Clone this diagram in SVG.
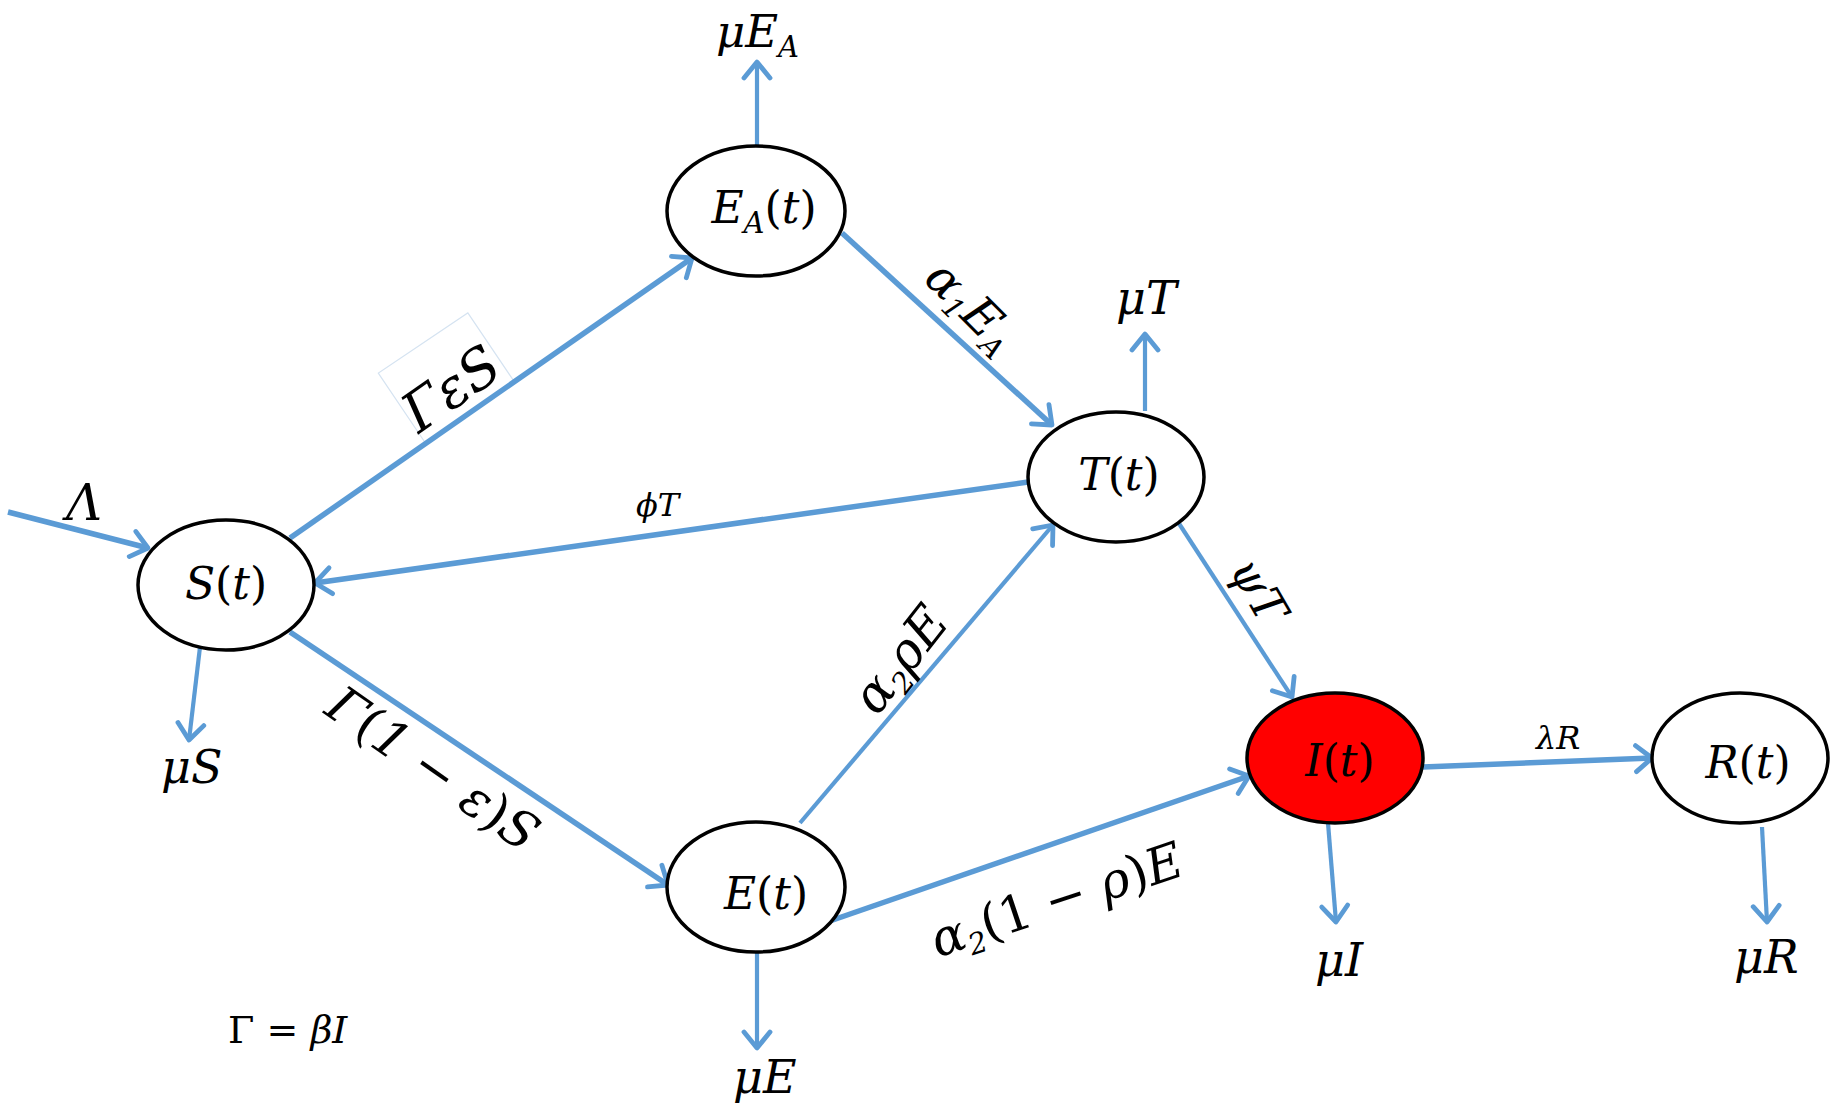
<svg xmlns="http://www.w3.org/2000/svg" width="1837" height="1111" viewBox="0 0 1837 1111">
<style>
.bg{fill:#fff}
.c{stroke:#5b9bd5;stroke-width:5.5;fill:none;marker-end:url(#ah)}
.th{stroke-width:4.2}
.n{fill:#fff;stroke:#000;stroke-width:3.5}
.ni{fill:#ff0000;stroke:#000;stroke-width:3.5}
.t{font-family:"DejaVu Serif","Liberation Serif",serif;font-style:italic;fill:#000}
.nt{font-size:44px;text-anchor:middle}
.u{font-style:normal}
.sub{font-size:29px}
.box{fill:#fff;stroke:#d5e3f1;stroke-width:1.2}
</style>
<defs>
<marker id="ah" markerUnits="userSpaceOnUse" viewBox="-22 -16 26 32" markerWidth="26" markerHeight="32" refX="0" refY="0" orient="auto">
<path d="M-16,-13 L0,0 L-16,13" fill="none" stroke="#5b9bd5" stroke-width="4.8" stroke-linejoin="round" stroke-linecap="round"/>
</marker>
</defs>
<rect class="bg" x="0" y="0" width="1837" height="1111"/>
<rect class="box" x="-54" y="-41" width="108" height="83" transform="translate(446 377) rotate(-34)"/>
<g id="connectors">
<line class="c" x1="8" y1="512" x2="148" y2="548"/>
<line class="c" x1="290" y1="538" x2="692" y2="258"/>
<line class="c" x1="842" y1="233" x2="1052" y2="425"/>
<line class="c th" x1="757" y1="146" x2="757" y2="62"/>
<line class="c th" x1="1145" y1="411" x2="1145" y2="334"/>
<line class="c" x1="1028" y1="482" x2="315" y2="583"/>
<line class="c" x1="290" y1="632" x2="668" y2="885"/>
<line class="c th" x1="800" y1="823" x2="1053" y2="525"/>
<line class="c" x1="827" y1="922" x2="1249" y2="776"/>
<line class="c th" x1="1178" y1="522" x2="1292" y2="697"/>
<line class="c" x1="1423" y1="767" x2="1652" y2="758"/>
<line class="c th" x1="200" y1="647" x2="189" y2="740"/>
<line class="c th" x1="757" y1="952" x2="757" y2="1048"/>
<line class="c th" x1="1328" y1="823" x2="1336" y2="922"/>
<line class="c th" x1="1762" y1="827" x2="1767" y2="922"/>
</g>
<g id="node-S"><ellipse class="n" cx="226" cy="585" rx="88" ry="65"/><text class="t nt" x="226" y="599">S<tspan class="u">(</tspan>t<tspan class="u">)</tspan></text></g>
<g id="node-EA"><ellipse class="n" cx="756" cy="211" rx="89" ry="65"/><text class="t nt" x="764" y="223">E<tspan class="sub" dy="10">A</tspan><tspan class="u" dy="-10">(</tspan>t<tspan class="u">)</tspan></text></g>
<g id="node-T"><ellipse class="n" cx="1116" cy="477" rx="88" ry="65"/><text class="t nt" x="1119" y="490">T<tspan class="u">(</tspan>t<tspan class="u">)</tspan></text></g>
<g id="node-E"><ellipse class="n" cx="756" cy="887" rx="89" ry="65"/><text class="t nt" x="766" y="909">E<tspan class="u">(</tspan>t<tspan class="u">)</tspan></text></g>
<g id="node-I"><ellipse class="ni" cx="1335" cy="758" rx="88" ry="65"/><text class="t nt" x="1340" y="776">I<tspan class="u">(</tspan>t<tspan class="u">)</tspan></text></g>
<g id="node-R"><ellipse class="n" cx="1740" cy="758" rx="88" ry="65"/><text class="t nt" x="1748" y="778">R<tspan class="u">(</tspan>t<tspan class="u">)</tspan></text></g>
<g id="labels">
<text class="t" x="66" y="520" font-size="50">Λ</text>
<text class="t" x="716" y="47" font-size="45">μE<tspan class="sub" dy="10">A</tspan></text>
<text class="t" x="1116" y="314" font-size="46">μT</text>
<text class="t" x="161" y="783" font-size="46">μS</text>
<text class="t" x="733" y="1093" font-size="46">μE</text>
<text class="t" x="1315" y="976" font-size="46">μI</text>
<text class="t" x="1734" y="973" font-size="46">μR</text>
<text class="t" x="636" y="516" font-size="32">ϕT</text>
<text class="t" x="1536" y="749" font-size="32">λR</text>
<text class="t" x="228" y="1043" font-size="38"><tspan class="u">Γ = </tspan>βI</text>
<text class="t" font-size="55" text-anchor="middle" transform="translate(462 404) rotate(-35)">ΓεS</text>
<text class="t" font-size="48" text-anchor="middle" transform="translate(960 318) rotate(45)">α<tspan class="sub" dy="8">1</tspan><tspan dy="-8">E</tspan><tspan class="sub" dy="8">A</tspan></text>
<text class="t" font-size="51" text-anchor="middle" transform="translate(914 670) rotate(-52)">α<tspan class="sub" dy="9">2</tspan><tspan dy="-9">ρE</tspan></text>
<text class="t" font-size="46" text-anchor="middle" transform="translate(1245 598) rotate(60)">ψT</text>
<text class="t" font-size="50" text-anchor="middle" transform="translate(1062 916) rotate(-18.5)">α<tspan class="sub" dy="9">2</tspan><tspan class="u" dy="-9">(</tspan><tspan class="u">1 − </tspan>ρ<tspan class="u">)</tspan>E</text>
<text class="t" font-size="51" text-anchor="middle" transform="translate(423 783) rotate(35)">Γ<tspan class="u">(</tspan><tspan>1 − </tspan>ε<tspan class="u">)</tspan>S</text>
</g>
</svg>
